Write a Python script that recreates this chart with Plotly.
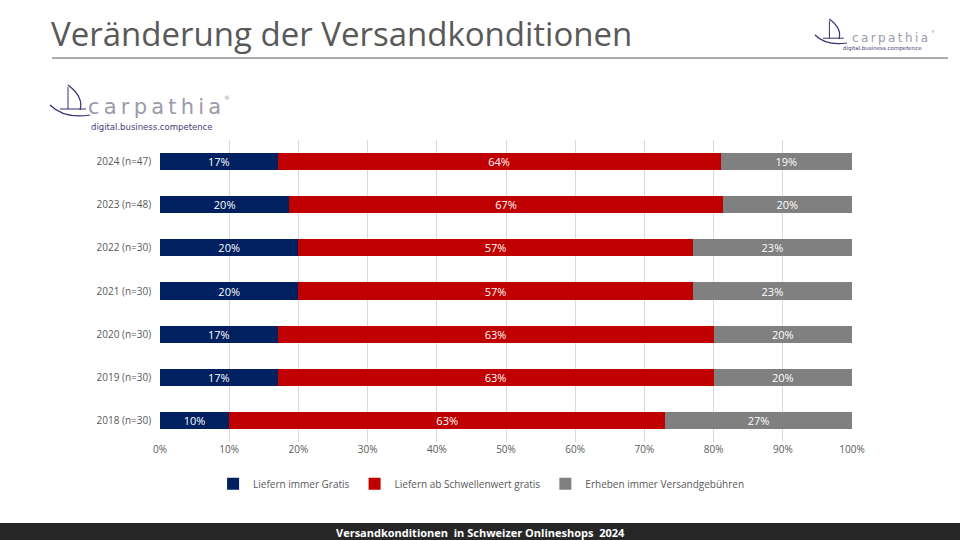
import plotly.graph_objects as go

categories = ["2018 (n=30)", "2019 (n=30)", "2020 (n=30)", "2021 (n=30)",
              "2022 (n=30)", "2023 (n=48)", "2024 (n=47)"]
series_names = ["Liefern immer Gratis", "Liefern ab Schwellenwert gratis",
                "Erheben immer Versandgebühren"]
immer_gratis = [10, 17, 17, 20, 20, 20, 17]
ab_schwelle = [63, 63, 63, 57, 57, 67, 64]
versandgebuehren = [27, 20, 20, 23, 23, 20, 19]
tick_vals = [0, 10, 20, 30, 40, 50, 60, 70, 80, 90, 100]
tick_text = [f"{v}%" for v in tick_vals]
colors = ["#002060", "#C00000", "#808080"]

W, H = 960, 540
L, R, T, B = 160, 108, 140, 98
PW, PH = W - L - R, H - T - B


def px(x):
    return (x - L) / PW


def py(y):
    return (H - B - y) / PH


fig = go.Figure()
for name, vals, col in zip(series_names, [immer_gratis, ab_schwelle, versandgebuehren], colors):
    fig.add_trace(go.Bar(
        y=categories, x=vals, name=name, orientation="h",
        marker=dict(color=col, line=dict(width=0)),
        text=[f"{v}%" for v in vals], textposition="inside",
        insidetextanchor="middle",
        textfont=dict(color="white", size=11, family="Open Sans"),
        hoverinfo="skip",
    ))

fig.update_layout(
    width=W, height=H,
    barmode="stack", barnorm="percent", bargap=0.6,
    margin=dict(l=L, r=R, t=T, b=B),
    paper_bgcolor="white", plot_bgcolor="white",
    font=dict(family="Open Sans", color="#595959", size=10),
    showlegend=True,
    legend=dict(orientation="h", x=0.464, xanchor="center", y=-0.09, yanchor="top",
                font=dict(size=10, color="#595959"), traceorder="normal",
                itemwidth=30),
    xaxis=dict(range=[0, 100], tickvals=tick_vals, ticktext=tick_text,
               showgrid=True, gridcolor="#d9d9d9", gridwidth=1, zeroline=False,
               showline=False, ticks="", tickfont=dict(size=10, color="#595959")),
    yaxis=dict(categoryorder="array", categoryarray=categories,
               showgrid=False, showline=False, ticks="",
               tickfont=dict(size=10, color="#595959"), ticksuffix="   "),
    uniformtext=dict(minsize=11, mode="show"),
)

shapes = []
# title underline
shapes.append(dict(type="line", xref="paper", yref="paper",
                   x0=px(52), x1=px(948), y0=py(58), y1=py(58),
                   line=dict(color="#595959", width=1)))
# footer bar
shapes.append(dict(type="rect", xref="paper", yref="paper",
                   x0=px(-2), x1=px(962), y0=py(523), y1=py(542),
                   fillcolor="#262626", line=dict(width=0), layer="above"))


def sail(x0, y0, s, col):
    out = []
    out.append(dict(type="path", xref="paper", yref="paper",
                    path=f"M {px(x0 + 18*s)} {py(y0)} Q {px(x0 + 34*s)} {py(y0 + 12*s)} {px(x0 + 30*s)} {py(y0 + 25*s)}",
                    line=dict(color=col, width=1.2 if s > 0.6 else 0.9)))
    out.append(dict(type="line", xref="paper", yref="paper",
                    x0=px(x0 + 18*s), x1=px(x0 + 18*s), y0=py(y0 + 2*s), y1=py(y0 + 24*s),
                    line=dict(color=col, width=1 if s > 0.6 else 0.8)))
    out.append(dict(type="line", xref="paper", yref="paper",
                    x0=px(x0 + 10*s), x1=px(x0 + 36*s), y0=py(y0 + 24*s), y1=py(y0 + 24*s),
                    line=dict(color=col, width=1 if s > 0.6 else 0.8)))
    out.append(dict(type="path", xref="paper", yref="paper",
                    path=f"M {px(x0)} {py(y0 + 20*s)} Q {px(x0 + 14*s)} {py(y0 + 34*s)} {px(x0 + 40*s)} {py(y0 + 30*s)}",
                    line=dict(color=col, width=1.2 if s > 0.6 else 0.9)))
    return out


shapes += sail(50, 85, 1.0, "#3b2d6e")
shapes += sail(815, 19, 0.8, "#3b2d6e")
fig.update_layout(shapes=shapes)

TS = "\u2009"
logo_word = TS.join("carpathia")

ann = []
ann.append(dict(text="Veränderung der Versandkonditionen", xref="paper", yref="paper",
                x=px(49), y=py(33), xanchor="left", yanchor="middle", showarrow=False,
                font=dict(family="Open Sans", size=33, color="#595959")))
ann.append(dict(text=logo_word, xref="paper", yref="paper",
                x=px(86), y=py(107), xanchor="left", yanchor="middle", showarrow=False,
                font=dict(family="DejaVu Sans", size=21, color="#9b9aab")))
ann.append(dict(text="®", xref="paper", yref="paper",
                x=px(222), y=py(98), xanchor="left", yanchor="middle", showarrow=False,
                font=dict(family="DejaVu Sans", size=6, color="#9b9aab")))
ann.append(dict(text="digital.business.competence", xref="paper", yref="paper",
                x=px(89), y=py(127), xanchor="left", yanchor="middle", showarrow=False,
                font=dict(family="DejaVu Sans", size=8.5, color="#4b3c78")))
ann.append(dict(text=logo_word, xref="paper", yref="paper",
                x=px(850), y=py(38), xanchor="left", yanchor="middle", showarrow=False,
                font=dict(family="DejaVu Sans", size=12, color="#9b9aab")))
ann.append(dict(text="®", xref="paper", yref="paper",
                x=px(929), y=py(32), xanchor="left", yanchor="middle", showarrow=False,
                font=dict(family="DejaVu Sans", size=4, color="#9b9aab")))
ann.append(dict(text="digital.business.competence", xref="paper", yref="paper",
                x=px(841), y=py(48), xanchor="left", yanchor="middle", showarrow=False,
                font=dict(family="DejaVu Sans", size=5.5, color="#4b3c78")))
ann.append(dict(text="<b>Versandkonditionen  in Schweizer Onlineshops  2024</b>",
                xref="paper", yref="paper", x=px(480), y=py(532),
                xanchor="center", yanchor="middle", showarrow=False,
                font=dict(family="Open Sans", size=11, color="white")))
fig.update_layout(annotations=ann)

fig.write_html("out.html",
               config={"displayModeBar": False},
               post_script="document.body.style.margin='0';document.body.style.overflow='hidden';")
